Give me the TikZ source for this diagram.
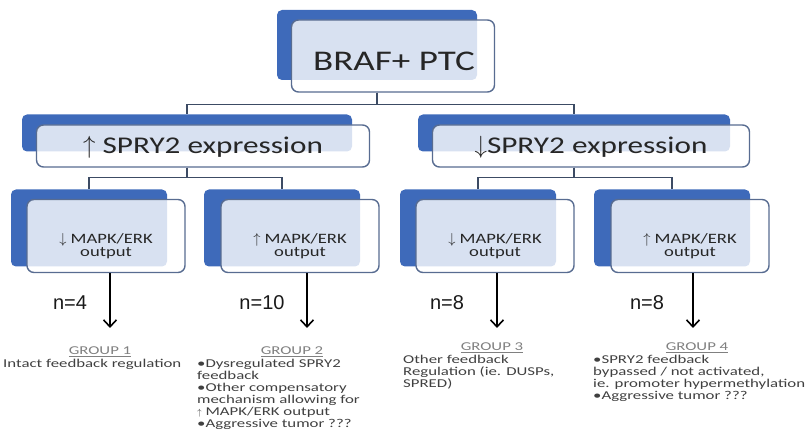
\documentclass[tikz,border=0pt]{standalone}
\usepackage{fontspec}
\setmainfont{Carlito}[FakeStretch=1.3]
\newfontfamily\notefont{Carlito}[FakeStretch=1.4]
\newfontfamily\arialfont{Liberation Sans}
\usetikzlibrary{arrows.meta,calc}
\definecolor{boxblue}{RGB}{62,106,186}
\definecolor{rimblue}{RGB}{88,108,145}
\definecolor{linkgray}{RGB}{60,75,100}
\newcommand{\mapkerk}{MAPK/ERK}
\newcommand{\smallup}{{\fontsize{9}{9}\selectfont$\uparrow$}}
\tikzstyle{backbox}=[fill=boxblue,rounded corners=5pt,inner sep=0pt]
\tikzstyle{frontbox}=[draw=rimblue,line width=1.4pt,fill=white,fill opacity=0.8,text opacity=1,rounded corners=7pt,inner sep=0pt,align=center,text=black!85]
\tikzstyle{boxtext}=[inner sep=0pt,align=center,text=black!85]
\tikzstyle{link} = [draw=linkgray,line width=1.6pt]
\tikzstyle{flow} = [draw,line width=1.6pt,-{Straight Barb[length=7pt,width=13pt]}]
\tikzstyle{count}=[font=\arialfont\fontsize{20}{24}\selectfont,text=black!90]
\tikzstyle{grouphead}=[font=\notefont\fontsize{12}{12}\selectfont,text=black!50,inner sep=0pt]
\tikzstyle{groupbody}=[font=\notefont\fontsize{12}{12}\selectfont,text=black!75,align=left,anchor=north west,inner sep=0pt]

\begin{document}
\begin{tikzpicture}[x=1pt,y=-1pt]
    \useasboundingbox (0,0) rectangle (807,443);

    % top box
    \node[backbox,minimum width=200pt,minimum height=70pt] (backtop) at (377,45) {};
    \node[frontbox,minimum width=203pt,minimum height=72pt] (fronttop) at (393,56) {};
    \node[boxtext,font=\fontsize{28.5}{30}\selectfont] (texttop) at (394,61) {BRAF+ PTC};

    % SPRY2 boxes
    \foreach \bx/\bw/\fx/\fw/\name/\txt in {187/330/203/333/left/{$\uparrow$ SPRY2 expression}, 574/312/591/317/right/{$\downarrow$SPRY2 expression}} {
        \node[backbox,minimum width=\bw pt,minimum height=37pt] (back\name) at (\bx,133) {};
        \node[frontbox,minimum width=\fw pt,minimum height=42pt] (front\name) at (\fx,146) {};
        \node[boxtext,font=\fontsize{24}{26}\selectfont] (text\name) at (\fx,147) {\txt};
    }

    % MAPK/ERK boxes
    \foreach \bx/\fx/\name/\arr in {89/106/one/\downarrow, 282/300/two/\uparrow, 478/495/three/\downarrow, 672/690/four/\uparrow} {
        \node[backbox,minimum width=156pt,minimum height=77pt] (back\name) at (\bx,228) {};
        \node[frontbox,minimum width=158pt,minimum height=73pt] (front\name) at (\fx,236) {};
        \node[boxtext,font=\fontsize{14.3}{13}\selectfont] (text\name) at (\fx,246) {$\arr$ \mapkerk\\output};
    }

    % connectors
    \draw[link] (backtop.south |- fronttop.south) -- ++(0,12) -| (backleft.north);
    \draw[link] (backtop.south |- fronttop.south) -- ++(0,12) -| (backright.north);
    \foreach \source/\dest in {left/one, left/two, right/three, right/four}
        \draw[link] (back\source.south |- front\source.south) -- ++(0,10) -| (back\dest.north);

    % arrows and counts
    \foreach \name/\x/\nx/\n in {one/110/70/4, two/307/262/10, three/497/447/8, four/693/647/8} {
        \coordinate (tip\name) at (\x,328);
        \draw[flow] (front\name.south -| tip\name) -- (tip\name);
        \node[count] (count\name) at (\nx,303) {n=\n};
    }

    % groups
    \node[grouphead] (headone) at (100,352) {\underline{GROUP 1}};
    \node[groupbody] (bodyone) at (3,359) {Intact feedback regulation};
    \node[grouphead] (headtwo) at (292,352) {\underline{GROUP 2}};
    \node[groupbody] (bodytwo) at (197,359) {\textbullet Dysregulated SPRY2\\feedback\\\textbullet Other compensatory\\mechanism allowing for\\\smallup{} \mapkerk{} output\\\textbullet Aggressive tumor ???};
    \node[grouphead] (headthree) at (492,348) {\underline{GROUP 3}};
    \node[groupbody] (bodythree) at (403,355) {Other feedback\\Regulation (ie. DUSPs,\\SPRED)};
    \node[grouphead] (headfour) at (697,348) {\underline{GROUP 4}};
    \node[groupbody] (bodyfour) at (593,355) {\textbullet SPRY2 feedback\\bypassed / not activated,\\ie. promoter hypermethylation\\\textbullet Aggressive tumor ???};

\end{tikzpicture}
\end{document}
